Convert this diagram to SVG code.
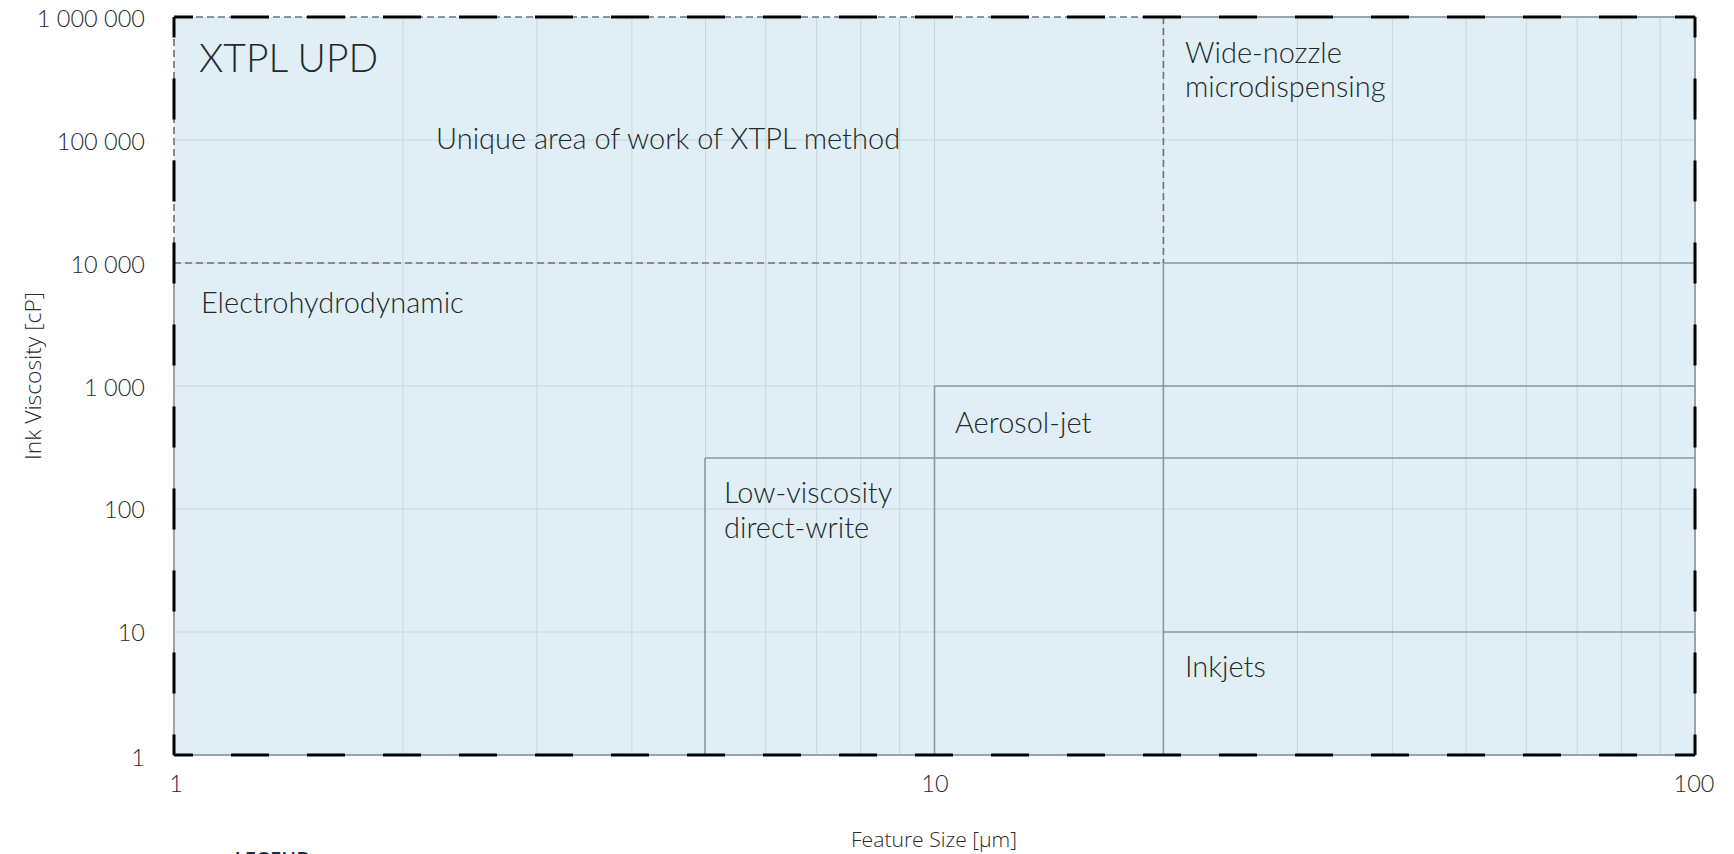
<svg xmlns="http://www.w3.org/2000/svg" width="1734" height="854" viewBox="0 0 1734 854">
<style>
.grid{stroke:#c6d6dd;stroke-width:1;fill:none}
.reg{stroke:#8d989d;stroke-width:1.6;fill:none}
.xt{stroke:#6b7276;stroke-width:1.6;fill:none;stroke-dasharray:7 4}
.frame{stroke:#9aa3a7;stroke-width:2;fill:none}
.bh{stroke:#000;stroke-width:3;fill:none;stroke-dasharray:38 38;stroke-dashoffset:19}
.bv{stroke:#000;stroke-width:3;fill:none;stroke-dasharray:41 41;stroke-dashoffset:20.5}
text{font-family:Lato,"Open Sans","Liberation Sans",sans-serif;fill:#25292c}
.lbl{font-size:29px;font-weight:300}
.tick{font-size:23.5px;font-weight:300}
.ax{font-family:"Open Sans","Liberation Sans",sans-serif;font-size:20.5px;font-weight:300;fill:#2a2a2a}
</style>
<rect width="1734" height="854" fill="#ffffff"/>
<g id="plot-area">
<rect x="174" y="17" width="1521" height="738" fill="#e0eff5"/>
<g id="gridlines">
<path class="grid" d="M402.9 17V755M536.9 17V755M631.9 17V755M705.6 17V755M765.8 17V755M816.7 17V755M860.8 17V755M899.7 17V755M934.5 17V755M1163.4 17V755M1297.4 17V755M1392.4 17V755M1466.1 17V755M1526.3 17V755M1577.2 17V755M1621.3 17V755M1660.2 17V755"/>
<path class="grid" d="M174 140H1695M174 263H1695M174 386H1695M174 509H1695M174 632H1695"/>
</g>
</g>
<g id="connectors">
<path class="frame" d="M1163.4 17H1695V755H174V263"/>
<path class="reg" d="M1163.4 263H1695M1163.4 263V755"/>
<path class="reg" d="M934.5 386H1695M934.5 386V755"/>
<path class="reg" d="M705 458H1695M705 458V755"/>
<path class="reg" d="M1163.4 632H1695"/>
<path class="xt" d="M174 17H1163.4M174 17V263M174 263H1163.4M1163.4 17V263"/>
<line class="bh" x1="174" y1="17" x2="1695" y2="17"/>
<line class="bh" x1="174" y1="755" x2="1695" y2="755"/>
<line class="bv" x1="174" y1="17" x2="174" y2="755"/>
<line class="bv" x1="1695" y1="17" x2="1695" y2="755"/>
</g>
<g id="node-xtpl">
<text x="199" y="72" style="font-size:39px;font-weight:300">XTPL UPD</text>
<text class="lbl" x="436" y="149">Unique area of work of XTPL method</text>
</g>
<g id="node-wide-nozzle">
<text class="lbl" x="1185" y="63">Wide-nozzle</text>
<text class="lbl" x="1185" y="97">microdispensing</text>
</g>
<g id="node-ehd">
<text class="lbl" x="201" y="313">Electrohydrodynamic</text>
</g>
<g id="node-aerosol">
<text class="lbl" x="955" y="433">Aerosol-jet</text>
</g>
<g id="node-lowvisc">
<text class="lbl" x="724" y="503">Low-viscosity</text>
<text class="lbl" x="724" y="538">direct-write</text>
</g>
<g id="node-inkjets">
<text class="lbl" x="1185" y="677">Inkjets</text>
</g>
<g id="axes">
<g text-anchor="end">
<text class="tick" x="145" y="27">1 000 000</text>
<text class="tick" x="145" y="150">100 000</text>
<text class="tick" x="145" y="273">10 000</text>
<text class="tick" x="145" y="396">1 000</text>
<text class="tick" x="145" y="518">100</text>
<text class="tick" x="145" y="641">10</text>
<text class="tick" x="145" y="766">1</text>
</g>
<g text-anchor="middle">
<text class="tick" x="176" y="792">1</text>
<text class="tick" x="935" y="792">10</text>
<text class="tick" x="1694" y="792">100</text>
</g>
<text class="ax" text-anchor="middle" x="934" y="847" textLength="166" lengthAdjust="spacingAndGlyphs">Feature Size [µm]</text>
<text class="ax" text-anchor="middle" transform="translate(41 376) rotate(-90)" style="font-size:22px" textLength="168" lengthAdjust="spacingAndGlyphs">Ink Viscosity [cP]</text>
<text x="235" y="866" style="font-size:18px;font-weight:700;fill:#1d2b4a;letter-spacing:1px">LEGEND</text>
</g>
</svg>
